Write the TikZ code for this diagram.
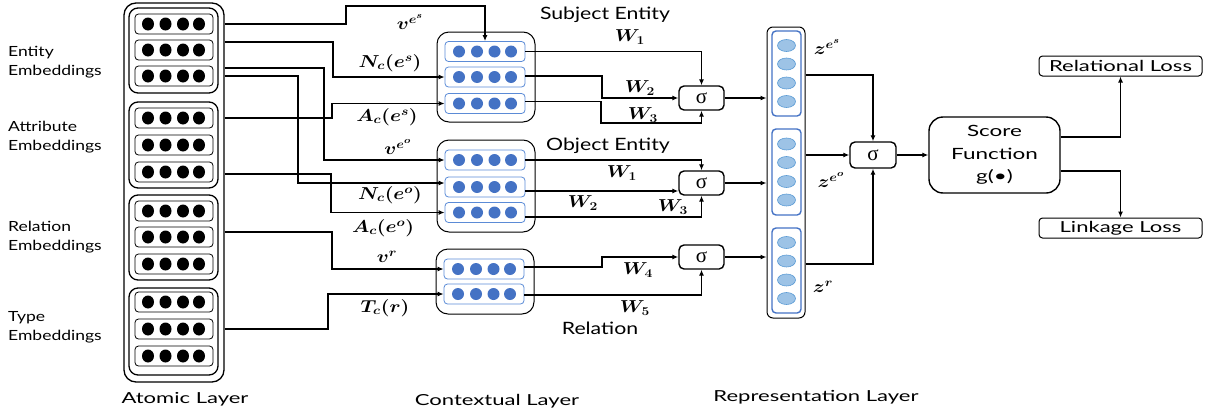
\documentclass[tikz,border=0pt]{standalone}
\usepackage{fontspec}
\setmainfont{Lato}
\newfontfamily\lblfont[FakeStretch=1.25]{Lato}
\newfontfamily\layfont[FakeStretch=1.45]{Lato}
\newfontfamily\sigfont{Liberation Serif}
\usepackage{amsmath}
\usepackage{graphicx}
\usetikzlibrary{arrows.meta,calc}
\definecolor{dotblue}{HTML}{4472C4}
\definecolor{rowblue}{HTML}{5B8BD6}
\definecolor{lightblue}{HTML}{9DC3E6}
\definecolor{ellblue}{HTML}{5B9BD5}
\newcommand{\atomrow}[3]{%
  \node[arow] (#1) at (#2,#3) {};
  \foreach \dx in {-26,-8.5,9,25} \fill ($(#1)+(\dx,0)$) ellipse (6pt and 6.5pt);
}
\newcommand{\ctxrow}[3]{%
  \node[crow] (#1) at (#2,#3) {};
  \foreach \dx in {-26,-8,9.5,26} \fill[dotblue] ($(#1)+(\dx,0)$) circle (6pt);
}
\newcommand{\repbox}[4]{%
  \node[rbox, minimum height=#4] (#1) at (#2,#3) {};
  \foreach \dy in {-28,-9.5,9.5,28} \filldraw[fill=lightblue, draw=ellblue, line width=0.6pt] ($(#1)+(0,\dy)$) ellipse (9pt and 6pt);
}
\newcommand{\wm}[1]{\scalebox{1.15}[1]{$#1$}}
\begin{document}
\begin{tikzpicture}[x=1pt,y=-1pt,
  txt/.style={font=\lblfont\fontsize{14}{19}\selectfont, inner sep=0pt},
  ttl/.style={font=\lblfont\fontsize{17}{20}\selectfont, inner sep=0pt},
  lay/.style={font=\layfont\fontsize{15.2}{19}\selectfont, inner sep=0pt},
  mlab/.style={font=\fontsize{18.5}{21}\selectfont\boldmath, inner sep=0pt},
  arow/.style={draw, rounded corners=3.5pt, minimum width=78pt, minimum height=20pt, line width=0.8pt, inner sep=0pt},
  crow/.style={draw=rowblue, rounded corners=3.5pt, minimum width=80pt, minimum height=20pt, line width=0.8pt, inner sep=0pt},
  grp/.style={draw, rounded corners=9pt, line width=1.3pt, inner sep=0pt, minimum width=89pt},
  cbox/.style={draw, rounded corners=12pt, line width=1pt, inner sep=0pt, minimum width=98pt},
  rbox/.style={draw=dotblue, rounded corners=4pt, line width=1.4pt, inner sep=0pt, minimum width=29pt},
  sig/.style={draw, rounded corners=5pt, line width=1.4pt, minimum width=45pt, minimum height=24pt, inner sep=0pt, font=\sigfont\fontsize{21}{22}\selectfont},
  loss/.style={draw, rounded corners=3.5pt, line width=1pt, minimum width=163pt, minimum height=20pt, inner sep=0pt, font=\layfont\fontsize{15.2}{19}\selectfont},
  conn/.style={line width=1.5pt, -{Latex[length=6pt,width=5pt]}}
]
\useasboundingbox (0,0) rectangle (1215,418);

% ---------- atomic layer ----------
\node[draw, rounded corners=12pt, line width=1.3pt, minimum width=100pt, minimum height=379pt, inner sep=0pt] (atom) at (174,192.5) {};
\node[grp, minimum height=85pt] (gent) at (173.5,50.5) {};
\node[grp, minimum height=86pt] (gatt) at (173.5,145) {};
\node[grp, minimum height=85pt] (grel) at (173.5,237.5) {};
\node[grp, minimum height=87pt] (gtyp) at (173.5,331.5) {};
\atomrow{e1}{174}{24}
\atomrow{e2}{174}{50}
\atomrow{e3}{174}{76}
\atomrow{a1}{174}{118}
\atomrow{a2}{174}{145}
\atomrow{a3}{174}{172}
\atomrow{r1}{174}{211}
\atomrow{r2}{174}{237}
\atomrow{r3}{174}{264}
\atomrow{t1}{174}{302}
\atomrow{t2}{174}{329}
\atomrow{t3}{174}{356}

\node[txt, anchor=west, align=left] (lent) at (8,62) {Entity\\Embeddings};
\node[txt, anchor=west, align=left] (latt) at (8,137) {Attribute\\Embeddings};
\node[txt, anchor=west, align=left] (lrel) at (8,237) {Relation\\Embeddings};
\node[txt, anchor=west, align=left] (ltyp) at (8,327) {Type\\Embeddings};
\node[lay] (latom) at (185,399) {Atomic Layer};

% ---------- contextual layer ----------
\node[cbox, minimum height=90pt] (csub) at (486,77) {};
\node[cbox, minimum height=92pt] (cobj) at (486,186) {};
\node[cbox, minimum height=65pt] (crel) at (485,281.5) {};
\ctxrow{s1}{485}{51.5}
\ctxrow{s2}{485}{77}
\ctxrow{s3}{485}{103.5}
\ctxrow{o1}{485}{160}
\ctxrow{o2}{485}{187}
\ctxrow{o3}{485}{212.5}
\ctxrow{q1}{484}{269}
\ctxrow{q2}{484}{294}
\node[ttl] (tsub) at (605,15) {Subject Entity};
\node[ttl] (tobj) at (608,146) {Object Entity};
\node[ttl] (trel) at (600,328) {Relation};
\node[lay] (lctx) at (497,401) {Contextual Layer};

% ---------- atomic -> contextual ----------
\draw[conn] (e1.east -| atom.east) -| (346,6) -| (s1.north);
\coordinate (e2s) at ($(e2.east)+(0,-8)$);
\draw[conn] (e2s -| atom.east) -| (333,60) |- (s2.west);
\coordinate (e3s) at ($(e3.east)+(0,-8)$);
\draw[conn] (e3s -| atom.east) -| (324,100) |- (o1.west);
\coordinate (o2l) at ($(o2.west)+(0,-4)$);
\draw[conn] (e3.east -| atom.east) -| (298,100) |- (o2l);
\draw[conn] (a1.east -| atom.east) -| (332,110) |- (s3.west);
\coordinate (a3s) at ($(a3.east)+(0,2)$);
\draw[conn] (a3s -| atom.east) -| (331,200) |- (o3.west);
\coordinate (r2s) at ($(r2.east)+(0,-5)$);
\draw[conn] (r2s -| atom.east) -| (332,250) |- (q1.west);
\draw[conn] (t2.east -| atom.east) -| (328,310) |- (q2.west);

\node[mlab] (lves) at (410,22) {\wm{v^{e^s}}};
\node[mlab] (lnes) at (390,63) {\wm{N_c(e^s)}};
\node[mlab] (laes) at (387,117) {\wm{A_c(e^s)}};
\node[mlab] (lveo) at (398,147) {\wm{v^{e^o}}};
\node[mlab] (lneo) at (390,195) {\wm{N_c(e^o)}};
\node[mlab] (laeo) at (383,228) {\wm{A_c(e^o)}};
\node[mlab] (lvr) at (387,257) {\wm{v^r}};
\node[mlab] (ltr) at (385,308) {\wm{T_c(r)}};

% ---------- sigma nodes ----------
\node[sig] (sig1) at (701.5,98) {σ};
\node[sig] (sig2) at (701.5,183) {σ};
\node[sig] (sig3) at (701.5,257) {σ};

\draw[conn] (s1.east) -| (sig1.north);
\coordinate (s2r) at ($(s2.east)+(0,-1)$);
\draw[conn] (s2r) -| (602,90) |- (sig1.west);
\coordinate (s3r) at ($(s3.east)+(0,-2)$);
\draw[conn] (s3r) -| (601,123) -| (sig1.south);
\draw[conn] (o1.east) -| (sig2.north);
\coordinate (o2r) at ($(o2.east)+(0,4)$);
\draw[conn] (o2r) -- (o2r -| sig2.west);
\coordinate (o3r) at ($(o3.east)+(0,4.5)$);
\draw[conn] (o3r) -| (sig2.south);
\coordinate (q1r) at ($(q1.east)+(0,-2)$);
\draw[conn] (q1r) -| (602,262) |- (sig3.west);
\coordinate (q2r) at ($(q2.east)+(0,1)$);
\draw[conn] (q2r) -| (sig3.south);

\node[mlab] (lw1a) at (630,37) {\wm{W_1}};
\node[mlab] (lw2a) at (640,88) {\wm{W_2}};
\node[mlab] (lw3a) at (643,115) {\wm{W_3}};
\node[mlab] (lw1b) at (622,173) {\wm{W_1}};
\node[mlab] (lw2b) at (583,203) {\wm{W_2}};
\node[mlab] (lw3b) at (673,207) {\wm{W_3}};
\node[mlab] (lw4) at (638,270) {\wm{W_4}};
\node[mlab] (lw5) at (635,308) {\wm{W_5}};

% ---------- representation layer ----------
\node[draw, rounded corners=6pt, line width=1pt, minimum width=38pt, minimum height=291pt, inner sep=0pt] (rep) at (786,172.5) {};
\repbox{zi1}{786.5}{73.5}{85pt}
\repbox{zi2}{786.5}{172}{86pt}
\repbox{zi3}{786.5}{270.5}{85pt}
\node[lay] (lrep) at (816,397) {Representation Layer};

\draw[conn] (sig1.east) -- (sig1.east -| rep.west);
\draw[conn] (sig2.east) -- (sig2.east -| rep.west);
\draw[conn] (sig3.east) -- (sig3.east -| rep.west);

\node[mlab] (lzs) at (827,47) {\wm{z^{e^s}}};
\node[mlab] (lzo) at (831,180) {\wm{z^{e^o}}};
\node[mlab] (lzr) at (823,287) {\wm{z^r}};

% ---------- score ----------
\node[sig, minimum width=46pt, minimum height=26pt] (sig4) at (873,155) {σ};
\coordinate (z1r) at ($(rep.east)+(0,-97.5)$);
\coordinate (z3r) at ($(rep.east)+(0,91.5)$);
\draw[conn] (z1r) -| (sig4.north);
\draw[conn] (sig4.west -| rep.east) -- (sig4.west);
\draw[conn] (z3r) -| (sig4.south);

\node[draw, rounded corners=14pt, line width=1.4pt, minimum width=131pt, minimum height=76pt, inner sep=0pt, align=center, font=\layfont\fontsize{15.5}{22.5}\selectfont] (score) at (994.5,155) {Score\\Function\\g(\textbullet)};
\draw[conn] (sig4.east) -- (score.west);

\node[loss] (rl) at (1120.5,66) {Relational Loss};
\node[loss] (ll) at (1120.5,228) {Linkage Loss};
\coordinate (sc1) at ($(score.east)+(0,-18)$);
\coordinate (sc2) at ($(score.east)+(0,16)$);
\draw[conn] (sc1) -| (rl.south);
\draw[conn] (sc2) -| (ll.north);
\end{tikzpicture}
\end{document}
